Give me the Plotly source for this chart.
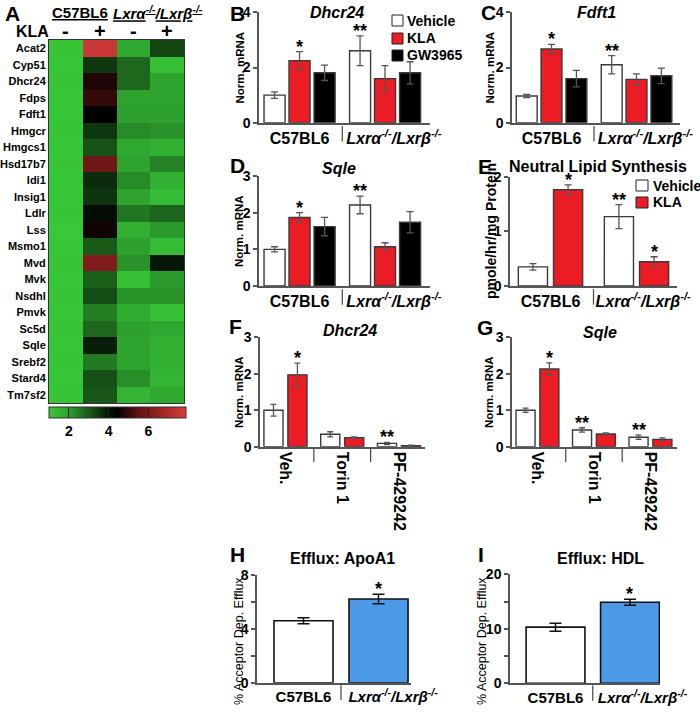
import plotly.graph_objects as go

W, H = 700, 722
def px(x): return x / W
def py(y): return 1 - y / H

# ---------------- data ----------------
genes = ["Acat2", "Cyp51", "Dhcr24", "Fdps", "Fdft1", "Hmgcr", "Hmgcs1", "Hsd17b7",
         "Idi1", "Insig1", "Ldlr", "Lss", "Msmo1", "Mvd", "Mvk", "Nsdhl", "Pmvk",
         "Sc5d", "Sqle", "Srebf2", "Stard4", "Tm7sf2"]
heat_c57_vehicle = [1.1, 1.05, 1.1, 1.05, 1.05, 1.1, 1.05, 1.1, 1.05, 1.05, 1.1,
                    1.0, 1.05, 1.1, 1.05, 1.1, 1.05, 1.1, 1.05, 1.1, 1.05, 1.1]
heat_c57_kla = [7.6, 3.5, 4.75, 5.0, 4.4, 3.5, 3.1, 5.8, 3.7, 3.55, 4.2,
                4.6, 3.0, 6.1, 2.9, 3.2, 2.5, 2.8, 3.9, 2.55, 3.15, 3.05]
heat_lxr_vehicle = [1.8, 2.8, 2.8, 1.9, 2.0, 2.3, 1.8, 1.9, 2.3, 1.9, 2.6,
                    1.6, 2.0, 2.2, 1.2, 2.2, 1.7, 2.0, 1.9, 1.9, 2.25, 1.5]
heat_lxr_kla = [3.3, 1.2, 1.9, 1.9, 2.0, 2.2, 1.6, 2.45, 1.6, 1.3, 2.85,
                2.1, 1.3, 4.0, 2.1, 2.2, 1.2, 1.8, 1.6, 1.6, 1.5, 1.8]
heat_kla_labels = ["-", "+", "-", "+"]

genotypes = ["C57BL6", "LxrDKO"]
genotype_names = ["C57BL6", "<i>Lxrα<sup>-/-</sup>/Lxrβ<sup>-/-</sup></i>"]
inhibitors = ["Veh.", "Torin 1", "PF-429242"]

dhcr24_vehicle = [1.00, 2.61]; dhcr24_vehicle_err = [0.12, 0.54]; dhcr24_vehicle_sig = ["", "**"]
dhcr24_kla = [2.25, 1.60];     dhcr24_kla_err = [0.33, 0.47];     dhcr24_kla_sig = ["*", ""]
dhcr24_gw = [1.81, 1.81];      dhcr24_gw_err = [0.28, 0.40];      dhcr24_gw_sig = ["", ""]

fdft1_vehicle = [0.97, 2.10]; fdft1_vehicle_err = [0.06, 0.33]; fdft1_vehicle_sig = ["", "**"]
fdft1_kla = [2.67, 1.57];     fdft1_kla_err = [0.17, 0.20];     fdft1_kla_sig = ["*", ""]
fdft1_gw = [1.60, 1.70];      fdft1_gw_err = [0.30, 0.28];      fdft1_gw_sig = ["", ""]

sqle_vehicle = [1.00, 2.21]; sqle_vehicle_err = [0.07, 0.24]; sqle_vehicle_sig = ["", "**"]
sqle_kla = [1.87, 1.07];     sqle_kla_err = [0.13, 0.11];     sqle_kla_sig = ["*", ""]
sqle_gw = [1.62, 1.74];      sqle_gw_err = [0.25, 0.29];      sqle_gw_sig = ["", ""]

nls_vehicle = [0.35, 1.27]; nls_vehicle_err = [0.06, 0.22]; nls_vehicle_sig = ["", "**"]
nls_kla = [1.76, 0.445];    nls_kla_err = [0.09, 0.09];     nls_kla_sig = ["*", "*"]

inh_dhcr24_vehicle = [1.00, 0.34, 0.09]; inh_dhcr24_vehicle_err = [0.16, 0.07, 0.03]; inh_dhcr24_vehicle_sig = ["", "", "**"]
inh_dhcr24_kla = [1.97, 0.25, 0.03];     inh_dhcr24_kla_err = [0.32, 0.02, 0.01];     inh_dhcr24_kla_sig = ["*", "", ""]

inh_sqle_vehicle = [1.00, 0.46, 0.26]; inh_sqle_vehicle_err = [0.06, 0.06, 0.06]; inh_sqle_vehicle_sig = ["", "**", "**"]
inh_sqle_kla = [2.13, 0.35, 0.20];     inh_sqle_kla_err = [0.17, 0.03, 0.04];     inh_sqle_kla_sig = ["*", "", ""]

efflux_apoa1 = [4.60, 6.22]; efflux_apoa1_err = [0.23, 0.35]; efflux_apoa1_sig = ["", "*"]
efflux_hdl = [10.3, 14.86];  efflux_hdl_err = [0.73, 0.55];   efflux_hdl_sig = ["", "*"]

# ---------------- styles ----------------
RED = "#ec1c24"
BLUE = "#4d9ae8"
AX = "#555555"
EDGE = "#3a3a3a"
FONT = "Liberation Sans, Arial, sans-serif"
NB = "\u00a0"

def geno_labels(pad):
    # the knockout label sits a little right of its group centre, as in the source figure
    return [genotype_names[0], NB * pad + genotype_names[1]]

fig = go.Figure()
annotations = []
shapes = []

# ---------------- heatmap (A) ----------------
z = [[a, b, c, d] for a, b, c, d in zip(heat_c57_vehicle, heat_c57_kla, heat_lxr_vehicle, heat_lxr_kla)]
def nz(v): return (v - 1.0) / 6.9
colorscale = [
    [nz(1.0), "rgb(56,200,56)"],
    [nz(2.0), "rgb(45,160,45)"],
    [nz(3.0), "rgb(25,90,25)"],
    [nz(4.0), "rgb(6,22,6)"],
    [nz(4.4), "rgb(0,0,0)"],
    [nz(5.5), "rgb(100,18,18)"],
    [nz(7.9), "rgb(215,60,60)"],
]
fig.add_trace(go.Heatmap(
    z=z, x=[0, 1, 2, 3], y=genes, zmin=1.0, zmax=7.9, colorscale=colorscale,
    xaxis="x", yaxis="y",
    colorbar=dict(orientation="h", x=px(117.5), xanchor="center", y=py(407), yanchor="top",
                  len=137, lenmode="pixels", thickness=11, outlinewidth=1, outlinecolor="#333",
                  tickvals=[2, 4, 6], ticks="inside", ticklen=11, tickcolor="#222", tickwidth=1,
                  tickfont=dict(size=14, family=FONT, weight="bold", color="black"),
                  xpad=0, ypad=0),
))

layout_axes = {}
layout_axes["xaxis"] = dict(domain=[px(49), px(184)], range=[-0.5, 3.5], anchor="y", side="top",
                            showticklabels=False, ticks="",
                            showline=True, mirror=True, linecolor="#333", linewidth=1,
                            showgrid=False, zeroline=False)
layout_axes["yaxis"] = dict(domain=[py(403), py(40)], anchor="x", autorange="reversed", ticks="",
                            tickfont=dict(size=11, family=FONT, weight="bold", color="black"),
                            showline=True, mirror=True, linecolor="#333", linewidth=1,
                            showgrid=False, zeroline=False)
for i, s in enumerate(heat_kla_labels):
    annotations.append(dict(x=i, xref="x", y=py(31.5), yref="paper", text=s, showarrow=False,
                            xanchor="center", yanchor="middle",
                            font=dict(size=20, family=FONT, weight="bold", color="black")))

# ---------------- bar helpers ----------------
def add_bars(n, cats, vals, errs, sigs, color, width, offset, capw=3.5, edge=EDGE, ecolor=AX):
    fig.add_trace(go.Bar(
        x=cats, y=vals, width=width, offset=offset, xaxis=f"x{n}", yaxis=f"y{n}",
        marker=dict(color=color, line=dict(color=edge, width=1.4)),
        error_y=dict(type="data", array=errs, visible=True, color=ecolor, thickness=1.3, width=capw),
        showlegend=False,
    ))
    for i, (v, e, s) in enumerate(zip(vals, errs, sigs)):
        if s:
            annotations.append(dict(x=i + offset + width / 2, y=v + e, xref=f"x{n}", yref=f"y{n}",
                                    text=s, showarrow=False, yanchor="bottom", yshift=-7,
                                    font=dict(size=18, family=FONT, weight="bold", color="black")))

def yax(n, dom, rng, tickvals, minor=None):
    d = dict(domain=[py(dom[0]), py(dom[1])], range=rng, anchor=f"x{n}", tickvals=tickvals,
             showline=True, linecolor=AX, linewidth=1.5, ticks="outside", ticklen=4, tickwidth=1.5,
             tickcolor=AX, tickfont=dict(size=14, family=FONT, weight="bold", color="black"),
             showgrid=False, zeroline=False)
    if minor is not None:
        d["minor"] = dict(tickvals=minor, ticks="outside", ticklen=4, tickwidth=1.5, tickcolor=AX,
                          showgrid=False)
    layout_axes[f"yaxis{n}"] = d

def xax(n, dom, rng, cats, labels, size=16, angle=0):
    layout_axes[f"xaxis{n}"] = dict(domain=[px(dom[0]), px(dom[1])], range=rng, anchor=f"y{n}",
                                    type="category", categoryorder="array", categoryarray=cats,
                                    tickvals=cats, ticktext=labels, ticks="", tickangle=angle,
                                    tickfont=dict(size=size, family=FONT, weight="bold", color="black"),
                                    showline=True, linecolor=AX, linewidth=1.5,
                                    showgrid=False, zeroline=False)

def separators(n, positions, y0, y1):
    for p in positions:
        shapes.append(dict(type="line", xref=f"x{n}", yref=f"y{n} domain", x0=p, x1=p, y0=y0, y1=y1,
                           line=dict(color="#444", width=1.2)))

W3, O3 = 0.246, [-0.415, -0.123, 0.170]
W2, O2 = 0.339, [-0.374, 0.035]
WI, OI = 0.337, [-0.38, 0.042]

# B: Dhcr24
xax(2, [259, 430], [-0.474, 1.526], genotypes, geno_labels(4))
yax(2, [122.7, 12.4], [0, 4], [0, 2, 4])
add_bars(2, genotypes, dhcr24_vehicle, dhcr24_vehicle_err, dhcr24_vehicle_sig, "white", W3, O3[0])
add_bars(2, genotypes, dhcr24_kla, dhcr24_kla_err, dhcr24_kla_sig, RED, W3, O3[1])
add_bars(2, genotypes, dhcr24_gw, dhcr24_gw_err, dhcr24_gw_sig, "black", W3, O3[2])
separators(2, [0.5], -0.03, -0.17)

# C: Fdft1
xax(3, [512, 680], [-0.465, 1.512], genotypes, geno_labels(4))
yax(3, [122.7, 12.4], [0, 4], [0, 2, 4])
add_bars(3, genotypes, fdft1_vehicle, fdft1_vehicle_err, fdft1_vehicle_sig, "white", W3, O3[0])
add_bars(3, genotypes, fdft1_kla, fdft1_kla_err, fdft1_kla_sig, RED, W3, O3[1])
add_bars(3, genotypes, fdft1_gw, fdft1_gw_err, fdft1_gw_sig, "black", W3, O3[2])
separators(3, [0.5], -0.03, -0.17)

# D: Sqle
xax(4, [259, 430], [-0.474, 1.526], genotypes, geno_labels(4))
yax(4, [286, 176], [0, 3], [0, 1, 2, 3])
add_bars(4, genotypes, sqle_vehicle, sqle_vehicle_err, sqle_vehicle_sig, "white", W3, O3[0])
add_bars(4, genotypes, sqle_kla, sqle_kla_err, sqle_kla_sig, RED, W3, O3[1])
add_bars(4, genotypes, sqle_gw, sqle_gw_err, sqle_gw_sig, "black", W3, O3[2])
separators(4, [0.5], -0.03, -0.17)

# E: Neutral lipid synthesis
xax(5, [510, 677], [-0.471, 1.471], genotypes, geno_labels(3))
yax(5, [286, 176.7], [0, 2], [0, 1, 2])
add_bars(5, genotypes, nls_vehicle, nls_vehicle_err, nls_vehicle_sig, "white", W2, O2[0])
add_bars(5, genotypes, nls_kla, nls_kla_err, nls_kla_sig, RED, W2, O2[1])
separators(5, [0.5], -0.03, -0.17)

# F: Dhcr24 inhibitors
xax(6, [260, 425], [-0.449, 2.458], inhibitors, inhibitors, angle=90)
yax(6, [446.7, 337.3], [0, 3], [0, 1, 2, 3])
add_bars(6, inhibitors, inh_dhcr24_vehicle, inh_dhcr24_vehicle_err, inh_dhcr24_vehicle_sig, "white", WI, OI[0], capw=3)
add_bars(6, inhibitors, inh_dhcr24_kla, inh_dhcr24_kla_err, inh_dhcr24_kla_sig, RED, WI, OI[1], capw=3)
separators(6, [0.5, 1.5], -0.02, -0.14)

# G: Sqle inhibitors
xax(7, [512, 677], [-0.451, 2.469], inhibitors, inhibitors, angle=90)
yax(7, [446.7, 337.3], [0, 3], [0, 1, 2, 3])
add_bars(7, inhibitors, inh_sqle_vehicle, inh_sqle_vehicle_err, inh_sqle_vehicle_sig, "white", WI, OI[0], capw=3)
add_bars(7, inhibitors, inh_sqle_kla, inh_sqle_kla_err, inh_sqle_kla_sig, RED, WI, OI[1], capw=3)
separators(7, [0.5, 1.5], -0.02, -0.14)

# H: Efflux ApoA1
xax(8, [257, 411], [-0.62, 1.433], genotypes, geno_labels(7), size=15)
yax(8, [682.7, 575], [0, 8], [0, 4, 8], minor=[2, 6])
fig.add_trace(go.Bar(x=genotypes, y=efflux_apoa1, width=0.787, xaxis="x8", yaxis="y8",
                     marker=dict(color=["white", BLUE], line=dict(color="#111", width=1.6)),
                     error_y=dict(type="data", array=efflux_apoa1_err, color="#111", thickness=1.5, width=6),
                     showlegend=False))
for i, (v, e, s) in enumerate(zip(efflux_apoa1, efflux_apoa1_err, efflux_apoa1_sig)):
    if s:
        annotations.append(dict(x=i, y=v + e, xref="x8", yref="y8", text=s, showarrow=False,
                                yanchor="bottom", yshift=-7,
                                font=dict(size=18, family=FONT, weight="bold", color="black")))
separators(8, [0.5], -0.02, -0.16)

# I: Efflux HDL
xax(9, [510, 660], [-0.611, 1.403], genotypes, geno_labels(6), size=15)
yax(9, [683.3, 574.3], [0, 20], [0, 10, 20], minor=[5, 15])
fig.add_trace(go.Bar(x=genotypes, y=efflux_hdl, width=0.79, xaxis="x9", yaxis="y9",
                     marker=dict(color=["white", BLUE], line=dict(color="#111", width=1.6)),
                     error_y=dict(type="data", array=efflux_hdl_err, color="#111", thickness=1.5, width=6),
                     showlegend=False))
for i, (v, e, s) in enumerate(zip(efflux_hdl, efflux_hdl_err, efflux_hdl_sig)):
    if s:
        annotations.append(dict(x=i, y=v + e, xref="x9", yref="y9", text=s, showarrow=False,
                                yanchor="bottom", yshift=-7,
                                font=dict(size=18, family=FONT, weight="bold", color="black")))
separators(9, [0.5], -0.02, -0.16)

# ---------------- text ----------------
def txt(x, y, s, size=14, weight="bold", xanchor="center", yanchor="middle", angle=0):
    annotations.append(dict(x=px(x), y=py(y), xref="paper", yref="paper", text=s, showarrow=False,
                            xanchor=xanchor, yanchor=yanchor, textangle=angle,
                            font=dict(size=size, family=FONT, weight=weight, color="black")))

# panel letters
for letter, (lx, ly) in {"A": (3, 13.5), "B": (228, 13.5), "C": (479, 12.5), "D": (228, 165),
                         "E": (476, 166), "F": (227, 326.5), "G": (475, 327), "H": (228, 554.5),
                         "I": (476, 554.5)}.items():
    txt(lx, ly, letter, size=21, xanchor="left")

# heatmap headers
txt(80, 12.5, "<u>C57BL6</u>", size=15)
txt(157.5, 12.5, "<u><i>Lxrα<sup>-/-</sup>/Lxrβ<sup>-/-</sup></i></u>", size=15)
txt(32.5, 31, "KLA", size=16)

# titles
txt(337, 12.5, "<i>Dhcr24</i>", size=16)
txt(596, 12.5, "<i>Fdft1</i>", size=16)
txt(339, 168, "<i>Sqle</i>", size=16)
txt(598, 166, "Neutral Lipid Synthesis", size=16)
txt(350, 331, "<i>Dhcr24</i>", size=16)
txt(600, 332, "<i>Sqle</i>", size=16)
txt(342, 558, "Efflux: ApoA1", size=16)
txt(600, 558, "Efflux: HDL", size=16)

# y titles
txt(239, 67.5, "Norm. mRNA", size=11.5, angle=-90)
txt(489, 67.5, "Norm. mRNA", size=11.5, angle=-90)
txt(239, 231, "Norm. mRNA", size=11.5, angle=-90)
txt(491, 231, "pmole/hr/mg Protein", size=14, angle=-90)
txt(239, 392, "Norm. mRNA", size=11.5, angle=-90)
txt(489, 392, "Norm. mRNA", size=11.5, angle=-90)
txt(239, 641, "% Acceptor Dep. Efflux", size=12.5, weight="normal", angle=-90)
txt(482, 641, "% Acceptor Dep. Efflux", size=12.5, weight="normal", angle=-90)

# legends (B and E)
for (y0, y1, col, label) in [(15, 26, "white", "Vehicle"), (33, 44, RED, "KLA"), (50, 61, "black", "GW3965")]:
    shapes.append(dict(type="rect", xref="paper", yref="paper", x0=px(392), x1=px(403), y0=py(y1), y1=py(y0),
                       fillcolor=col, line=dict(color="#222", width=1)))
    txt(405, (y0 + y1) / 2, label, size=14, xanchor="left")
for (y0, y1, col, label) in [(180, 191, "white", "Vehicle"), (197, 208, RED, "KLA")]:
    shapes.append(dict(type="rect", xref="paper", yref="paper", x0=px(636), x1=px(648), y0=py(y1), y1=py(y0),
                       fillcolor=col, line=dict(color="#222", width=1)))
    txt(651, (y0 + y1) / 2, label, size=14, xanchor="left")

fig.update_layout(
    width=W, height=H, margin=dict(l=0, r=0, t=0, b=0, pad=0, autoexpand=False),
    paper_bgcolor="white", plot_bgcolor="rgba(0,0,0,0)",
    font=dict(family=FONT, size=14, color="black"),
    showlegend=False, annotations=annotations, shapes=shapes,
    **layout_axes,
)

fig.write_html("out.html", config={"displayModeBar": False},
               post_script="document.body.style.margin='0px';")
